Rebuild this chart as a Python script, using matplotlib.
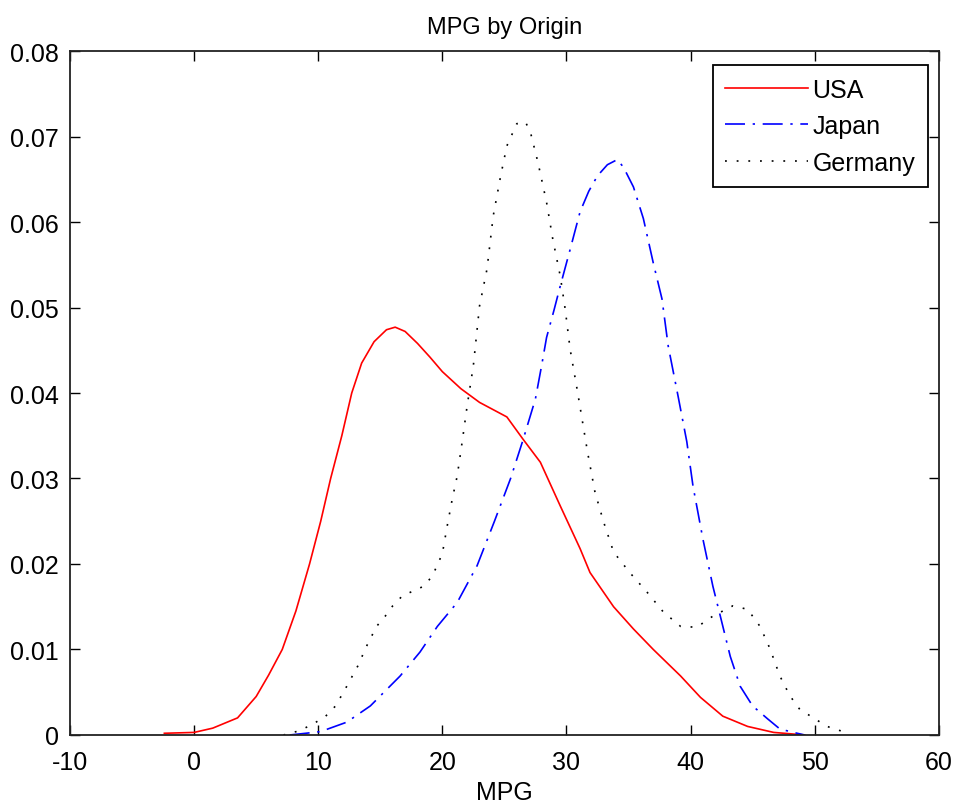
import matplotlib
matplotlib.use("Agg")
import matplotlib.pyplot as plt

# MPG kernel density estimates by origin
usa_x = [-2.4, 0.0, 1.5, 3.5, 5.0, 6.0, 7.1, 8.2, 9.3, 10.2, 11.0, 11.9, 12.7, 13.5, 14.5,
         15.5, 16.2, 17.0, 18.0, 19.0, 20.0, 21.5, 23.0, 25.2, 26.5, 27.9, 29.5, 31.1,
         31.9, 33.8, 35.4, 37.0, 39.2, 40.8, 42.6, 44.6, 46.7, 49.2]
usa_y = [0.0002, 0.0003, 0.0008, 0.002, 0.0045, 0.007, 0.010, 0.0145, 0.020, 0.025,
         0.030, 0.035, 0.040, 0.0435, 0.046, 0.0474, 0.0477, 0.0472, 0.0458, 0.0442,
         0.0425, 0.0405, 0.0389, 0.0372, 0.0346, 0.0319, 0.0268, 0.0218, 0.019, 0.015,
         0.0124, 0.010, 0.0069, 0.0044, 0.0022, 0.001, 0.0003, 0.0]

japan_x = [7.7, 9.0, 10.2, 12.3, 14.2, 16.6, 18.2, 19.6, 21.2, 22.8, 24.2, 25.5, 26.5,
           27.5, 28.0, 28.4, 29.0, 29.5, 30.3, 31.1, 31.8, 32.5, 33.3, 34.1, 34.6, 35.4,
           36.2, 37.0, 37.7, 38.2, 39.0, 39.7, 40.2, 41.0, 41.8, 42.4, 43.2, 44.0, 45.0,
           46.2, 47.2, 48.3, 49.2]
japan_y = [0.0, 0.0002, 0.0004, 0.0015, 0.0034, 0.0069, 0.0097, 0.0127, 0.0155, 0.0198,
           0.025, 0.030, 0.0345, 0.0393, 0.0432, 0.0465, 0.0497, 0.0525, 0.0568, 0.0612,
           0.0636, 0.0654, 0.0667, 0.0673, 0.0664, 0.0641, 0.0604, 0.0552, 0.051, 0.0455,
           0.0396, 0.0343, 0.0291, 0.0229, 0.0174, 0.0139, 0.0092, 0.0057, 0.0034,
           0.0019, 0.0007, 0.0003, 0.0]

germany_x = [7.2, 8.5, 9.6, 10.6, 11.4, 12.3, 13.2, 13.9, 14.7, 15.4, 16.0, 16.8, 17.6,
             18.5, 19.2, 20.0, 20.4, 20.8, 21.2, 21.6, 22.0, 22.5, 23.0, 23.6, 24.1, 24.7,
             25.2, 26.0, 26.7, 27.1, 27.7, 28.4, 28.9, 29.5, 29.9, 30.3, 30.9, 31.7, 32.3,
             33.0, 33.8, 35.1, 36.5, 37.8, 39.2, 40.5, 41.8, 43.4, 44.6, 45.6, 46.4, 47.2,
             48.0, 48.8, 49.9, 51.0, 52.5]
germany_y = [0.0, 0.0005, 0.0013, 0.0022, 0.0034, 0.0057, 0.0081, 0.0104, 0.0127, 0.0139,
             0.0151, 0.0163, 0.0168, 0.0174, 0.0186, 0.0212, 0.0245, 0.0276, 0.0303,
             0.0343, 0.0385, 0.0432, 0.0502, 0.0545, 0.0607, 0.0654, 0.0689, 0.0715,
             0.0717, 0.0705, 0.067, 0.0623, 0.058, 0.0537, 0.0498, 0.0451, 0.0401, 0.0331,
             0.0284, 0.0249, 0.0214, 0.019, 0.0167, 0.0144, 0.0127, 0.0126, 0.0139,
             0.0151, 0.0147, 0.0127, 0.0101, 0.0069, 0.0046, 0.003, 0.002, 0.001, 0.0003]

x_ticks = [-10, 0, 10, 20, 30, 40, 50, 60]
y_ticks = [0, 0.01, 0.02, 0.03, 0.04, 0.05, 0.06, 0.07, 0.08]
y_labels = ["0", "0.01", "0.02", "0.03", "0.04", "0.05", "0.06", "0.07", "0.08"]

plt.rcParams["font.family"] = ["Liberation Sans", "DejaVu Sans"]
plt.rcParams["font.size"] = 18
plt.rcParams["axes.unicode_minus"] = False

fig = plt.figure(figsize=(9.54, 8.04), dpi=100)
ax = fig.add_axes([0.0734, 0.0846, 0.9106, 0.8507])

lw = 1.2
ax.plot(usa_x, usa_y, color="red", lw=lw, label="USA")
ax.plot(japan_x, japan_y, color="blue", lw=lw, dashes=(12, 4.6, 1.4, 4.6), label="Japan")
ax.plot(germany_x, germany_y, color="black", lw=lw, dashes=(1.1, 5.9), label="Germany")

ax.set_xlim(-10, 60)
ax.set_ylim(0, 0.08)
ax.set_xticks(x_ticks)
ax.set_yticks(y_ticks)
ax.set_yticklabels(y_labels)
ax.tick_params(direction="in", length=7, width=1, top=True, right=True,
               labelsize=18, colors="black")
ax.tick_params(axis="y", pad=8)
ax.tick_params(axis="x", pad=11)
for s in ax.spines.values():
    s.set_linewidth(1.3)
    s.set_color("#222222")

ax.set_title("MPG by Origin", fontsize=17, pad=13)
ax.set_xlabel("MPG", fontsize=18, labelpad=4)

leg = ax.legend(loc="upper right", bbox_to_anchor=(0.9874, 0.9795), fontsize=18,
                frameon=True, fancybox=False, framealpha=1, edgecolor="black",
                handlelength=3.3, handletextpad=0.2, borderpad=0.5, labelspacing=0.5,
                borderaxespad=0)
leg.get_frame().set_linewidth(1.3)

fig.savefig("out.png", dpi=100)
